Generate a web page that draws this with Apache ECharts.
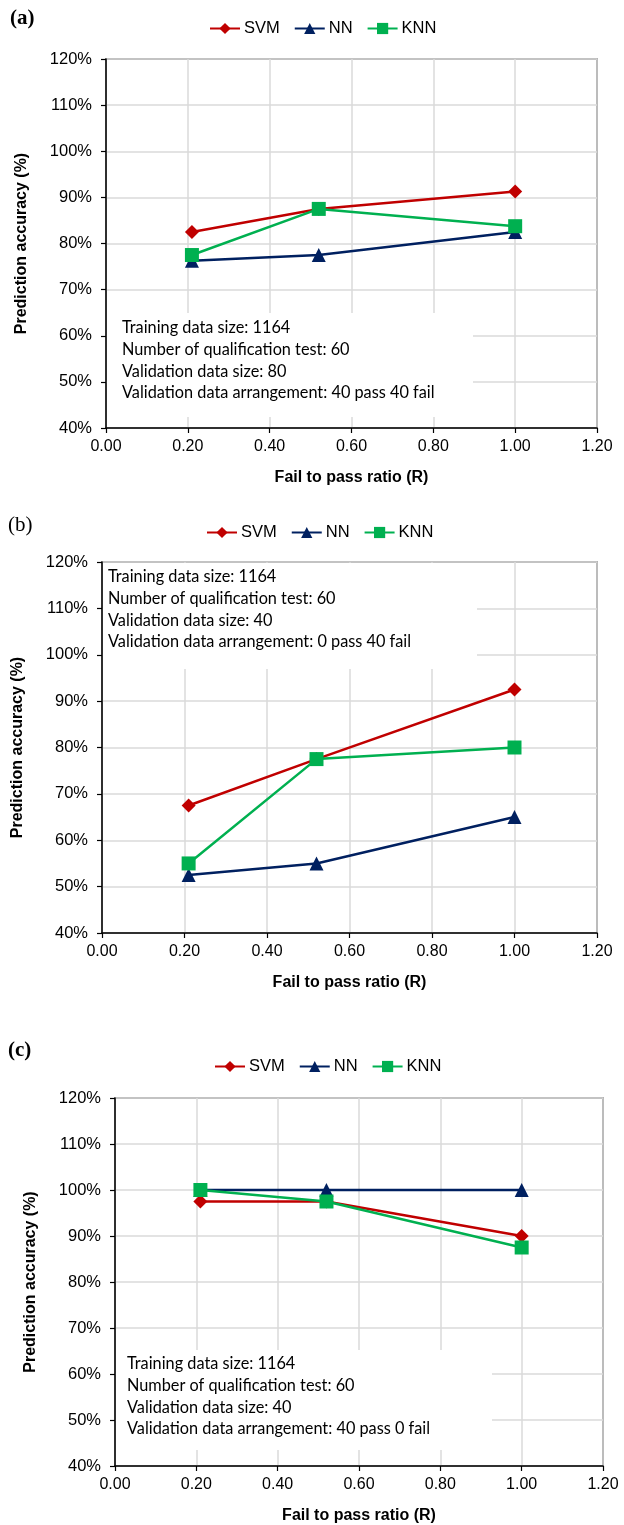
<!DOCTYPE html>
<html>
<head>
<meta charset="utf-8">
<script src="https://cdn.jsdelivr.net/npm/echarts@6/dist/echarts.min.js"></script>
<style>
html,body{margin:0;padding:0;background:#fff;}
#chart{width:624px;height:1525px;}
</style>
</head>
<body>
<div id="chart"></div>
<script>
// ---- data ----
const ratios = [0.21, 0.52, 1.00];
const seriesNames = ['SVM', 'NN', 'KNN'];
const panelA_SVM = [82.5, 87.5, 91.25];
const panelA_NN  = [76.25, 77.5, 82.5];
const panelA_KNN = [77.5, 87.5, 83.75];
const panelB_SVM = [67.5, 77.5, 92.5];
const panelB_NN  = [52.5, 55.0, 65.0];
const panelB_KNN = [55.0, 77.5, 80.0];
const panelC_SVM = [97.5, 97.5, 90.0];
const panelC_NN  = [100, 100, 100];
const panelC_KNN = [100, 97.5, 87.5];
const yTicks = [40, 50, 60, 70, 80, 90, 100, 110, 120];
const xTicks = [0.00, 0.20, 0.40, 0.60, 0.80, 1.00, 1.20];
const panelLabels = ['(a)', '(b)', '(c)'];
const notesA = ['Training data size: 1164', 'Number of qualification test: 60', 'Validation data size: 80', 'Validation data arrangement: 40 pass 40 fail'];
const notesB = ['Training data size: 1164', 'Number of qualification test: 60', 'Validation data size: 40', 'Validation data arrangement: 0 pass 40 fail'];
const notesC = ['Training data size: 1164', 'Number of qualification test: 60', 'Validation data size: 40', 'Validation data arrangement: 40 pass 0 fail'];
const xTitle = 'Fail to pass ratio (R)';
const yTitle = 'Prediction accuracy (%)';

// ---- layout / style ----
const colors = {SVM: '#C00000', NN: '#002060', KNN: '#00B050'};
const symbols = {SVM: 'diamond', NN: 'triangle', KNN: 'rect'};
const sizes = {SVM: 14, NN: 14, KNN: 14};
const panels = [
  {grid: {left: 106, top: 59, width: 491, height: 369}, legend: {left: 204, top: 15}, label: {x: 10, y: 8, bold: true},
   data: [panelA_SVM, panelA_NN, panelA_KNN], notes: notesA, box: {x: 107, y: 313, w: 366, h: 104}, textX: 122, textY: 317, yNameGap: 76},
  {grid: {left: 102, top: 562, width: 495, height: 371}, legend: {left: 201, top: 519}, label: {x: 8, y: 515, bold: false},
   data: [panelB_SVM, panelB_NN, panelB_KNN], notes: notesB, box: {x: 103, y: 563, w: 374, h: 106}, textX: 108, textY: 566, yNameGap: 76},
  {grid: {left: 115, top: 1098, width: 488, height: 369}, legend: {left: 209, top: 1053}, label: {x: 8, y: 1040, bold: true},
   data: [panelC_SVM, panelC_NN, panelC_KNN], notes: notesC, box: {x: 116, y: 1350, w: 376, h: 100}, textX: 127, textY: 1353, yNameGap: 76}
];

const grids = [], xAxes = [], yAxes = [], series = [], legends = [], graphics = [];
panels.forEach((p, i) => {
  grids.push(Object.assign({show: true, borderColor: '#000', borderWidth: 1.2, backgroundColor: 'transparent'}, p.grid));
  xAxes.push({
    type: 'value', gridIndex: i, min: xTicks[0], max: xTicks[xTicks.length - 1], interval: 0.2,
    name: xTitle, nameLocation: 'middle', nameGap: 42,
    nameTextStyle: {fontFamily: 'Liberation Sans', fontWeight: 'bold', fontSize: 16, color: '#000'},
    axisLine: {lineStyle: {color: '#000', width: 1.5}},
    axisTick: {show: true, inside: false, length: 5, lineStyle: {color: '#000', width: 1.2}},
    axisLabel: {fontFamily: 'Liberation Sans', fontSize: 16, color: '#000', margin: 11, formatter: v => v.toFixed(2)},
    splitLine: {show: true, lineStyle: {color: '#dadada', width: 1.5}}
  });
  yAxes.push({
    type: 'value', gridIndex: i, min: yTicks[0], max: yTicks[yTicks.length - 1], interval: 10,
    name: yTitle, nameLocation: 'middle', nameGap: p.yNameGap, nameRotate: 90,
    nameTextStyle: {fontFamily: 'Liberation Sans', fontWeight: 'bold', fontSize: 16, color: '#000'},
    axisLine: {show: true, lineStyle: {color: '#000', width: 1.5}},
    axisTick: {show: true, inside: false, length: 5, lineStyle: {color: '#000', width: 1.2}},
    axisLabel: {fontFamily: 'Liberation Sans', fontSize: 16.5, color: '#000', margin: 14, formatter: '{value}%'},
    splitLine: {show: true, lineStyle: {color: '#dadada', width: 1.5}}
  });
  seriesNames.forEach((n, k) => {
    series.push({
      name: n, type: 'line', xAxisIndex: i, yAxisIndex: i,
      data: ratios.map((r, j) => [r, p.data[k][j]]),
      symbol: symbols[n], symbolSize: sizes[n], showSymbol: true,
      lineStyle: {color: colors[n], width: 2.5},
      itemStyle: {color: colors[n]},
      z: 3 + k, animation: false
    });
  });
  legends.push({
    left: p.legend.left, top: p.legend.top, data: seriesNames, itemWidth: 30, itemHeight: 14, itemGap: 14,
    textStyle: {fontFamily: 'Liberation Sans', fontSize: 16.5, color: '#000', padding: [0, 0, 0, -1]}, selectedMode: false
  });
  graphics.push({
    type: 'text', left: p.label.x, top: p.label.y, z: 10,
    style: {text: panelLabels[i], font: (p.label.bold ? 'bold ' : '') + '21px "Liberation Serif"', fill: '#000'}
  });
  graphics.push({
    type: 'rect', shape: {x: p.box.x, y: p.box.y, width: p.box.w, height: p.box.h}, z: 5,
    style: {fill: '#fff'}
  });
  graphics.push({
    type: 'text', x: p.textX, y: p.textY, z: 6,
    style: {text: p.notes.join('\n'), font: '16.3px Lato', lineHeight: 21.7, fill: '#000'}
  });
});

const chart = echarts.init(document.getElementById('chart'), null, {renderer: 'canvas'});
chart.setOption({
  animation: false,
  backgroundColor: '#fff',
  grid: grids, xAxis: xAxes, yAxis: yAxes, series: series, legend: legends, graphic: graphics
});
</script>
</body>
</html>
